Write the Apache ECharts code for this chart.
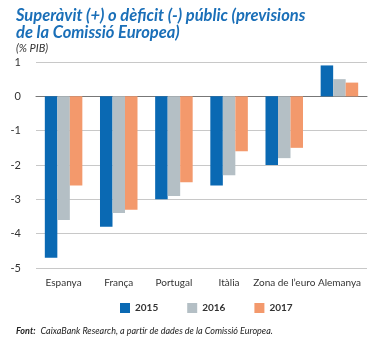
<!DOCTYPE html>
<html><head><meta charset="utf-8">
<script src="https://cdn.jsdelivr.net/npm/echarts@6/dist/echarts.min.js"></script>
<style>html,body{margin:0;padding:0;background:#fff}#c{width:387px;height:338px}</style>
</head><body><div id="c"></div>
<script>
const categories = ['Espanya','França','Portugal','Itàlia','Zona de l\u2019euro','Alemanya'];
const s2015 = [-4.7,-3.8,-3.0,-2.6,-2.0,0.9];
const s2016 = [-3.6,-3.4,-2.9,-2.3,-1.8,0.5];
const s2017 = [-2.6,-3.3,-2.5,-1.6,-1.5,0.4];
const seriesNames = ['2015','2016','2017'];
const yTicks = [-5,-4,-3,-2,-1,0,1];
const colors = ['#0a69b3','#b4bfc5','#f3996c'];
const font = 'Lato';
const chart = echarts.init(document.getElementById('c'));
chart.setOption({
  animation:false,
  color:colors,
  title:[{
    text:'Superàvit (+) o dèficit (-) públic (previsions\nde la Comissió Europea)',
    left:11, top:2,
    textStyle:{fontFamily:font,fontSize:16.5,fontWeight:'bold',fontStyle:'italic',color:'#1a6fb8',lineHeight:17}
  },{
    text:'(% PIB)', left:11, top:38,
    textStyle:{fontFamily:font,fontSize:11,fontWeight:'normal',fontStyle:'italic',color:'#333'}
  },{
    text:'{b|Font:} {n|CaixaBank Research, a partir de dades de la Comissió Europea.}',
    left:11, top:317,
    textStyle:{rich:{
      b:{fontFamily:font,fontSize:9,fontWeight:'bold',fontStyle:'italic',color:'#222'},
      n:{fontFamily:font,fontSize:9,fontWeight:'normal',fontStyle:'italic',color:'#222'}
    }}
  }],
  legend:{
    data:seriesNames, top:298, left:115, itemWidth:10, itemHeight:10, itemGap:29,
    icon:'rect',
    textStyle:{fontFamily:font,fontSize:10,fontWeight:'bold',color:'#333'}
  },
  grid:{left:36,right:20,top:62,bottom:70},
  xAxis:[{
    type:'category', data:categories, position:'bottom',
    axisLine:{show:false,onZero:false}, axisTick:{show:false},
    axisLabel:{fontFamily:font,fontSize:10,color:'#333',interval:0,margin:10}
  },{
    type:'category', data:categories, position:'top',
    axisLine:{onZero:true,lineStyle:{color:'#777',width:1}},
    axisTick:{inside:false,length:3,lineStyle:{color:'#777'}},
    axisLabel:{show:false}
  }],
  yAxis:{
    type:'value', min:yTicks[0], max:yTicks[yTicks.length-1], interval:1,
    axisLine:{show:false}, axisTick:{show:false},
    axisLabel:{fontFamily:font,fontSize:11,color:'#333',margin:15},
    splitLine:{lineStyle:{color:'#c8c8c8',width:1}}
  },
  series:seriesNames.map((n,i)=>({
    name:n, type:'bar', xAxisIndex:0, data:[s2015,s2016,s2017][i],
    barGap:'0%', barCategoryGap:'32%'
  }))
});
</script></body></html>
